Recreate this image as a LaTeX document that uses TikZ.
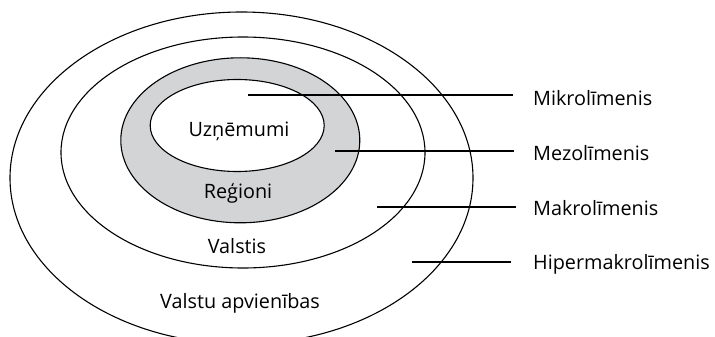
\documentclass[tikz,border=0pt]{standalone}
\usepackage{fontspec}
\setmainfont{Open Sans}
\usetikzlibrary{shapes.geometric}
\definecolor{ringgray}{RGB}{211,212,214}
\begin{document}
\begin{tikzpicture}[x=1pt,y=-1pt,
  ring/.style={draw=black,line width=1.1pt,ellipse,inner sep=0pt},
  lead/.style={draw=black,line width=1.1pt},
  lvl/.style={anchor=base west,inner sep=0pt,font=\fontsize{19.8}{23}\selectfont},
  inlbl/.style={anchor=base,inner sep=0pt,font=\fontsize{19.8}{23}\selectfont}]
\useasboundingbox (0,0) rectangle (715,337);
\clip (0,0) rectangle (715,337);
\node[ring,fill=white,minimum width=463pt,minimum height=332pt] (e4) at (241.5,178) {};
\node[ring,fill=white,minimum width=364pt,minimum height=231pt] (e3) at (243,152.5) {};
\node[ring,fill=ringgray,minimum width=239pt,minimum height=165pt] (e2) at (240.3,140.3) {};
\node[ring,fill=white,minimum width=174pt,minimum height=92pt] (e1) at (237.2,125.5) {};
\node[inlbl] (t1) at (239,136) {Uzņēmumi};
\node[inlbl] (t2) at (238,198) {Reģioni};
\node[inlbl] (t3) at (237,253) {Valstis};
\node[inlbl] (t4) at (240,308) {Valstu apvienības};
\coordinate (a1) at (248,95);  \coordinate (b1) at (513,95);
\coordinate (a2) at (335,151); \coordinate (b2) at (514,151);
\coordinate (a3) at (377,207); \coordinate (b3) at (516,207);
\coordinate (a4) at (412,262); \coordinate (b4) at (511,262);
\draw[lead] (a1) -- (b1);
\draw[lead] (a2) -- (b2);
\draw[lead] (a3) -- (b3);
\draw[lead] (a4) -- (b4);
\node[lvl] (l1) at (533,105) {Mikrolīmenis};
\node[lvl] (l2) at (533,160) {Mezolīmenis};
\node[lvl] (l3) at (533,215) {Makrolīmenis};
\node[lvl] (l4) at (533,269) {Hipermakrolīmenis};
\end{tikzpicture}
\end{document}
